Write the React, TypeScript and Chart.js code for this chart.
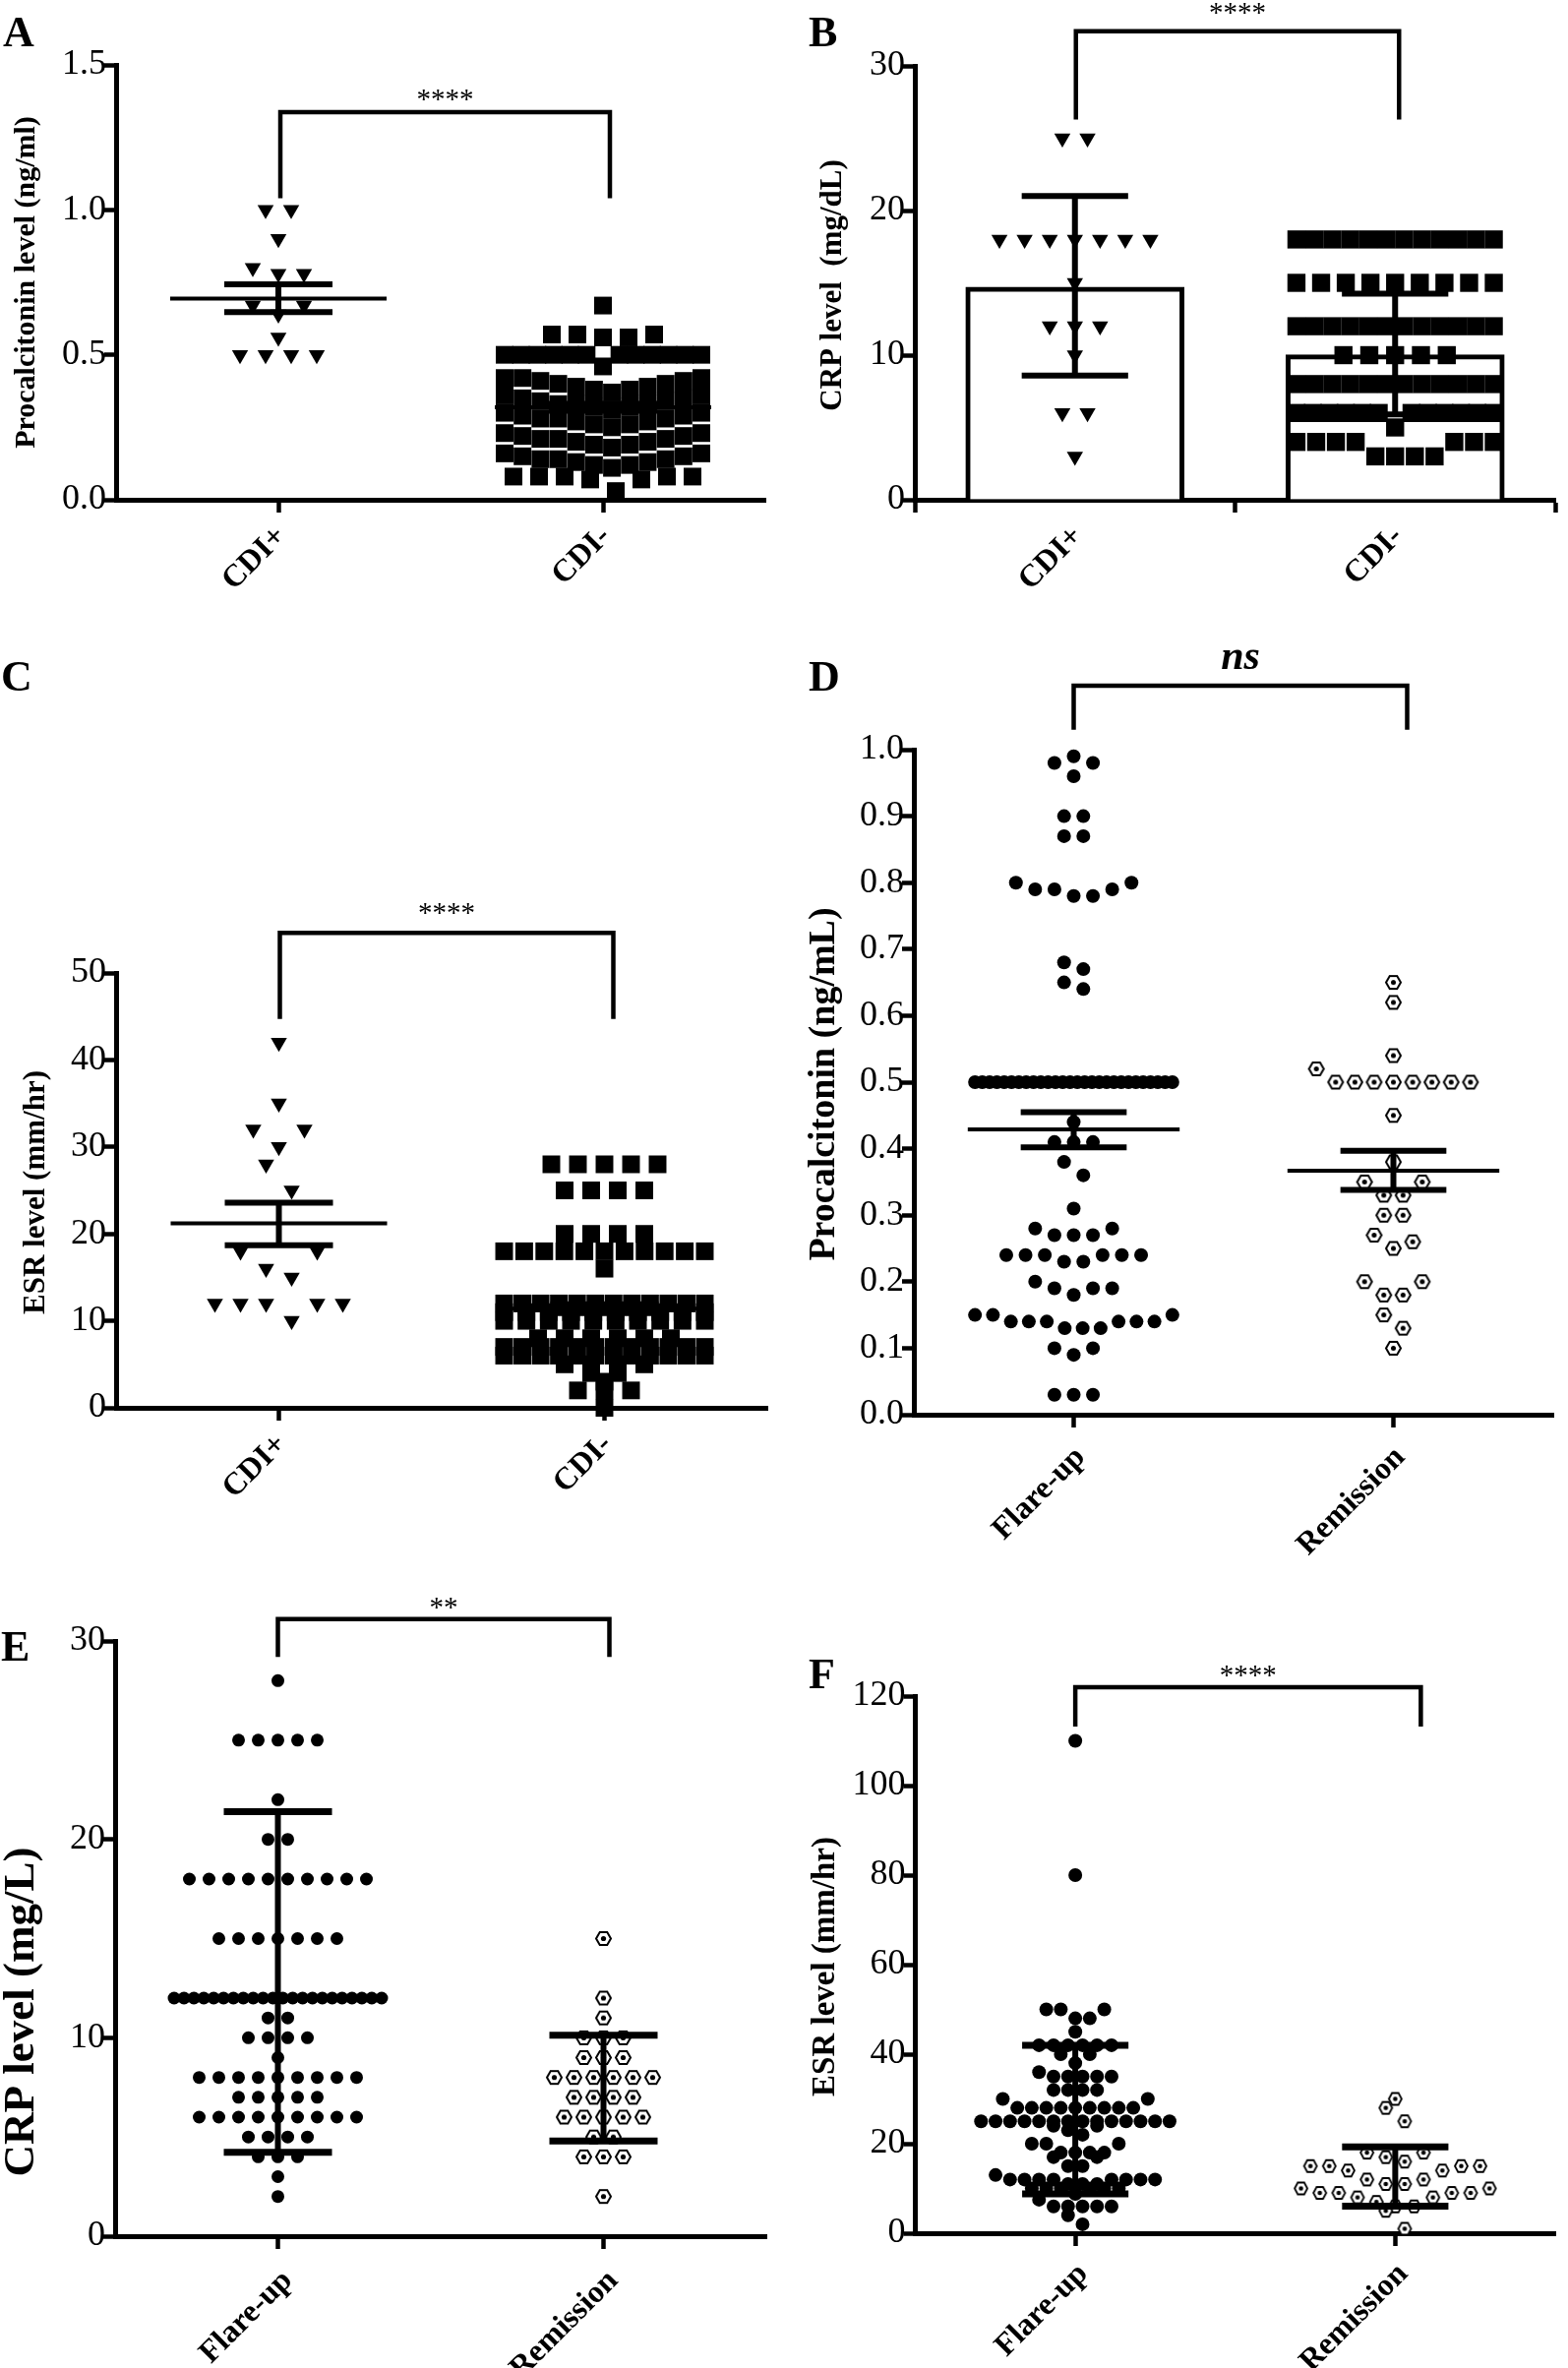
import React, { useEffect, useRef } from 'react';
import { Chart, registerables } from 'chart.js';

Chart.register(...registerables);

const FONT = '"Liberation Serif", "Times New Roman", Times, serif';

// ---------------- data ----------------
const cdiGroups = ['CDI+', 'CDI-'];
const flareGroups = ['Flare-up', 'Remission'];

// A: Procalcitonin, CDI+ vs CDI-
const pctTicksA = [0, 0.5, 1.0, 1.5];
const pctCdiPos = [1.0, 1.0, 0.9, 0.8, 0.78, 0.78, 0.67, 0.64, 0.67, 0.56, 0.5, 0.5, 0.5, 0.5];
const pctCdiNeg = [
  0.67,
  0.57, 0.57, 0.57, 0.56, 0.56,
  0.5, 0.5, 0.5, 0.5, 0.5, 0.5, 0.5, 0.5, 0.5, 0.5, 0.5, 0.5, 0.46,
  0.37, 0.38, 0.38, 0.39, 0.39, 0.4, 0.4, 0.41, 0.41, 0.42, 0.42, 0.42,
  0.31, 0.32, 0.32, 0.33, 0.33, 0.33, 0.34, 0.34, 0.35, 0.35, 0.36, 0.36,
  0.25, 0.26, 0.26, 0.27, 0.27, 0.28, 0.28, 0.28, 0.29, 0.29, 0.3, 0.3,
  0.18, 0.19, 0.19, 0.2, 0.2, 0.21, 0.21, 0.21, 0.22, 0.22, 0.23, 0.23,
  0.11, 0.12, 0.12, 0.13, 0.13, 0.14, 0.14, 0.14, 0.15, 0.15, 0.16, 0.16,
  0.03, 0.07, 0.07, 0.08, 0.08, 0.08, 0.08, 0.08,
];
const pctMeanA = [0.694, 0.319];
const pctSemLowA = [0.647, 0.307];
const pctSemHighA = [0.743, 0.331];

// B: CRP, CDI+ vs CDI- (bars = mean, error = SD)
const crpTicksB = [0, 10, 20, 30];
const crpCdiPos = [25, 25, 18, 18, 18, 18, 18, 18, 18, 15, 12, 12, 12, 10, 6, 6, 3];
const crpCdiNeg = [
  18, 18, 18, 18, 18, 18, 18, 18, 18, 18, 18, 18,
  15, 15, 15, 15, 15, 15, 15, 15, 15,
  12, 12, 12, 12, 12, 12, 12, 12, 12, 12, 12, 12,
  10, 10, 10, 10, 10,
  8, 8, 8, 8, 8, 8, 8, 8, 8, 8, 8, 8,
  6, 6, 6, 6, 6, 6, 6, 6, 6, 6, 6, 6,
  5,
  4, 4, 4, 4, 4, 4, 4,
  3, 3, 3, 3,
];
const crpBarB = [14.7, 10.03];
const crpSdLowB = [8.58, 5.9];
const crpSdHighB = [21.0, 14.25];

// C: ESR, CDI+ vs CDI-
const esrTicksC = [0, 10, 20, 30, 40, 50];
const esrCdiPos = [42, 35, 32, 32, 30, 28, 25, 18, 18, 16, 15, 12, 12, 12, 12, 12, 10];
const esrCdiNeg = [
  28, 28, 28, 28, 28,
  25, 25, 25, 25,
  20, 20, 20, 20,
  18, 18, 18, 18, 18, 18, 18, 18, 18, 18, 18,
  16,
  12, 12, 12, 12, 12, 12, 12, 12, 12, 12, 12, 12,
  11, 11, 11, 11, 11, 11, 11, 11, 11, 11,
  10, 10, 10, 10, 10, 10, 10, 10, 10, 10,
  8, 8, 8, 8, 8, 8,
  7, 7, 7, 7, 7, 7, 7, 7, 7, 7, 7, 7,
  6, 6, 6, 6, 6, 6, 6, 6, 6, 6, 6, 6,
  5, 5, 5, 5,
  4, 4,
  3,
  2, 2, 2,
  0,
];
const esrMeanC = [21.2, 11.4];
const esrSemLowC = [18.7, 10.9];
const esrSemHighC = [23.6, 11.9];

// D: Procalcitonin, Flare-up vs Remission
const pctTicksD = [0, 0.1, 0.2, 0.3, 0.4, 0.5, 0.6, 0.7, 0.8, 0.9, 1.0];
const pctFlare = [
  0.99, 0.98, 0.98, 0.96,
  0.9, 0.9, 0.87, 0.87,
  0.8, 0.79, 0.78, 0.78, 0.79, 0.79, 0.8,
  0.68, 0.67, 0.65, 0.64,
  0.5, 0.5, 0.5, 0.5, 0.5, 0.5, 0.5, 0.5, 0.5, 0.5,
  0.5, 0.5, 0.5, 0.5, 0.5, 0.5, 0.5, 0.5, 0.5, 0.5,
  0.5, 0.5, 0.5, 0.5, 0.5, 0.5, 0.5, 0.5,
  0.44, 0.41, 0.41, 0.41, 0.38, 0.36, 0.31,
  0.28, 0.28, 0.27, 0.27, 0.27,
  0.24, 0.24, 0.24, 0.24, 0.24, 0.24, 0.23, 0.23,
  0.2, 0.19, 0.19, 0.19, 0.18,
  0.15, 0.15, 0.15, 0.14, 0.14, 0.14, 0.14, 0.14, 0.14, 0.13, 0.13, 0.13,
  0.1, 0.1, 0.09,
  0.03, 0.03, 0.03,
];
const pctRemission = [
  0.65, 0.62, 0.54, 0.52,
  0.5, 0.5, 0.5, 0.5, 0.5, 0.5, 0.5, 0.5,
  0.45, 0.38, 0.35, 0.35, 0.33, 0.33, 0.3, 0.3,
  0.27, 0.26, 0.25, 0.2, 0.2, 0.18, 0.18, 0.15, 0.13, 0.1,
];
const pctMeanD = [0.429, 0.367];
const pctSemLowD = [0.402, 0.338];
const pctSemHighD = [0.455, 0.397];

// E: CRP, Flare-up vs Remission (error = SD)
const crpTicksE = [0, 10, 20, 30];
const crpFlare = [
  28,
  25, 25, 25, 25, 25,
  22,
  20, 20,
  18, 18, 18, 18, 18, 18, 18, 18, 18, 18,
  15, 15, 15, 15, 15, 15, 15,
  12, 12, 12, 12, 12, 12, 12, 12, 12, 12, 12,
  12, 12, 12, 12, 12, 12, 12, 12, 12, 12, 12,
  11, 11,
  10, 10, 10, 10,
  9,
  8, 8, 8, 8, 8, 8, 8, 8, 8,
  7, 7, 7, 7, 7,
  6, 6, 6, 6, 6, 6, 6, 6, 6,
  5, 5, 5, 5,
  4, 4, 4,
  3,
  2,
];
const crpRemission = [15, 12, 11, 10, 10, 10, 9, 9, 9, 8, 8, 8, 8, 8, 8, 7, 7, 7, 7, 6, 6, 6, 6, 6, 5, 5, 4, 4, 4, 2];
const crpSdLowE = [4.23, 4.8];
const crpSdHighE = [21.4, 10.13];

// F: ESR, Flare-up vs Remission (error = SD)
const esrTicksF = [0, 20, 40, 60, 80, 100, 120];
const esrFlare = [
  110, 80,
  50, 50, 50, 48, 48, 45,
  42, 42, 42, 42, 42, 42, 40, 40, 38, 36, 35, 35, 35, 35, 35,
  32, 32, 32, 32, 30, 30,
  28, 28, 28, 28, 28, 28, 28, 28, 28,
  25, 25, 25, 25, 25, 25, 25, 25, 25, 25, 25, 25, 25, 25,
  24, 24, 23, 22,
  20, 20, 20, 18, 18, 18, 18, 17, 17, 15, 15, 13,
  12, 12, 12, 12, 12, 12, 12, 12,
  11, 11, 11,
  10, 10, 10, 10, 10, 10,
  8.8, 7.5,
  6, 6, 6, 6, 6,
  4, 2,
];
const esrRemission = [30, 28, 25, 18, 18, 17, 16, 15, 15, 15, 15, 14, 14, 12, 12, 11, 11, 10, 10, 9, 9, 9, 9, 8, 8, 7, 6, 6, 5, 1];
const esrSdLowF = [8.8, 6.05];
const esrSdHighF = [42.0, 19.3];

// ---------------- layout / style ----------------
type Sym = 'tri' | 'sq' | 'dot' | 'hex';
type GroupSpec = { values: number[]; symbol: Sym; size: number; step: number; span: number; bin: number };
type PanelSpec = {
  letter: string;
  letterPos: [number, number];
  box: [number, number, number, number];
  axisX: number;
  top: number;
  bottom: number;
  right: number;
  yTicks: number[];
  decimals: number;
  cats: string[];
  yTitle: string;
  titleSize: number;
  titlePos: [number, number];
  sig: string;
  sigFont: string;
  sigGap: number;
  bracket: [number, number];
  bracketDx: [number, number];
  groups: GroupSpec[];
  bars?: number[];
  mean?: number[];
  low: number[];
  high: number[];
  capWidth: number;
  meanWidth: number;
  hex?: [number, number, number, number];
  labelPad: number;
  labelShift: number;
};

const panels: PanelSpec[] = [
  {
    letter: 'A', letterPos: [3, 47], box: [0, 0, 800, 640],
    axisX: 118, top: 66, bottom: 508, right: 778,
    yTicks: pctTicksA, decimals: 1, cats: cdiGroups,
    yTitle: 'Procalcitonin level (ng/ml)', titleSize: 30, titlePos: [27, 287],
    sig: '****', sigFont: `29px ${FONT}`, sigGap: 4,
    bracket: [1.337, 1.04], bracketDx: [2, 7],
    groups: [
      { values: pctCdiPos, symbol: 'tri', size: 9.5, step: 26, span: 200, bin: 16 },
      { values: pctCdiNeg, symbol: 'sq', size: 12.7, step: 26, span: 200, bin: 16 },
    ],
    mean: pctMeanA, low: pctSemLowA, high: pctSemHighA, capWidth: 6, meanWidth: 4, labelPad: 6, labelShift: 3,
  },
  {
    letter: 'B', letterPos: [822, 47], box: [800, 0, 794, 640],
    axisX: 930, top: 67, bottom: 508, right: 1592,
    yTicks: crpTicksB, decimals: 0, cats: cdiGroups,
    yTitle: 'CRP level  (mg/dL)', titleSize: 31, titlePos: [847, 290],
    sig: '****', sigFont: `29px ${FONT}`, sigGap: 10,
    bracket: [32.4, 26.3], bracketDx: [1, 4],
    groups: [
      { values: crpCdiPos, symbol: 'tri', size: 9.5, step: 26, span: 200, bin: 16 },
      { values: crpCdiNeg, symbol: 'sq', size: 13, step: 26.7, span: 204, bin: 16 },
    ],
    bars: crpBarB, low: crpSdLowB, high: crpSdHighB, capWidth: 6, meanWidth: 4, labelPad: 6, labelShift: 3,
  },
  {
    letter: 'C', letterPos: [1, 702], box: [0, 640, 800, 980],
    axisX: 118, top: 989, bottom: 1431, right: 780,
    yTicks: esrTicksC, decimals: 0, cats: cdiGroups,
    yTitle: 'ESR level (mm/hr)', titleSize: 31, titlePos: [37, 1212],
    sig: '****', sigFont: `29px ${FONT}`, sigGap: 11,
    bracket: [54.6, 44.7], bracketDx: [1, 9],
    groups: [
      { values: esrCdiPos, symbol: 'tri', size: 9.5, step: 26, span: 200, bin: 28 },
      { values: esrCdiNeg, symbol: 'sq', size: 12.7, step: 27, span: 204, bin: 8 },
    ],
    mean: esrMeanC, low: esrSemLowC, high: esrSemHighC, capWidth: 6, meanWidth: 4, labelPad: 6, labelShift: 3,
  },
  {
    letter: 'D', letterPos: [822, 702], box: [800, 640, 794, 980],
    axisX: 929, top: 762, bottom: 1438, right: 1593,
    yTicks: pctTicksD, decimals: 1, cats: flareGroups,
    yTitle: 'Procalcitonin (ng/mL)', titleSize: 38, titlePos: [838, 1102],
    sig: 'ns', sigFont: `italic bold 42px ${FONT}`, sigGap: 17,
    bracket: [1.096, 1.03], bracketDx: [0, 14],
    groups: [
      { values: pctFlare, symbol: 'dot', size: 7, step: 20, span: 205, bin: 14 },
      { values: pctRemission, symbol: 'hex', size: 15, step: 20, span: 205, bin: 14 },
    ],
    mean: pctMeanD, low: pctSemLowD, high: pctSemHighD, capWidth: 6, meanWidth: 4,
    hex: [15, 13, 2, 2.5], labelPad: 12, labelShift: 7,
  },
  {
    letter: 'E', letterPos: [1, 1688], box: [0, 1620, 800, 787],
    axisX: 117, top: 1668, bottom: 2273, right: 779,
    yTicks: crpTicksE, decimals: 0, cats: flareGroups,
    yTitle: 'CRP level (mg/L)', titleSize: 45, titlePos: [22, 2045],
    sig: '**', sigFont: `29px ${FONT}`, sigGap: 3,
    bracket: [31.1, 29.2], bracketDx: [0, 6],
    groups: [
      { values: crpFlare, symbol: 'dot', size: 6.5, step: 20, span: 211, bin: 14 },
      { values: crpRemission, symbol: 'hex', size: 15, step: 20, span: 211, bin: 14 },
    ],
    low: crpSdLowE, high: crpSdHighE, capWidth: 7, meanWidth: 4,
    hex: [15, 13, 2, 2.6], labelPad: 14, labelShift: 10,
  },
  {
    letter: 'F', letterPos: [822, 1716], box: [800, 1620, 794, 787],
    axisX: 930.5, top: 1724, bottom: 2270, right: 1592.5,
    yTicks: esrTicksF, decimals: 0, cats: flareGroups,
    yTitle: 'ESR level (mm/hr)', titleSize: 33, titlePos: [839, 1999],
    sig: '****', sigFont: `29px ${FONT}`, sigGap: 3,
    bracket: [122, 113.2], bracketDx: [0, 26],
    groups: [
      { values: esrFlare, symbol: 'dot', size: 7, step: 15, span: 208, bin: 10 },
      { values: esrRemission, symbol: 'hex', size: 13, step: 19.5, span: 208, bin: 20 },
    ],
    low: esrSdLowF, high: esrSdHighF, capWidth: 7, meanWidth: 4,
    hex: [13, 12, 1.8, 2.3], labelPad: 10, labelShift: 8,
  },
];

// ---------------- helpers ----------------
function swarm(values: number[], cx: number, ppuX: number, ppuY: number, binPx: number, stepPx: number, spanPx: number) {
  const order = values.map((_, i) => i).sort((a, b) => values[a] - values[b]);
  const bins: number[][] = [];
  let start = 0;
  for (const i of order) {
    const last = bins[bins.length - 1];
    if (last && (values[i] - start) * ppuY < binPx) last.push(i);
    else {
      bins.push([i]);
      start = values[i];
    }
  }
  const pts = values.map((v) => ({ x: cx, y: v }));
  for (const bin of bins) {
    const n = bin.length;
    const step = n > 1 ? Math.min(stepPx, spanPx / (n - 1)) : 0;
    const slots = Array.from({ length: n }, (_, k) => k - (n - 1) / 2).sort(
      (a, b) => Math.abs(a) - Math.abs(b) || b - a
    );
    bin.forEach((i, k) => {
      pts[i].x = cx + (slots[k] * step) / ppuX;
    });
  }
  return pts;
}

function hexSymbol(w: number, h: number, lw: number, dotR: number) {
  const c = document.createElement('canvas');
  c.width = Math.ceil(w + lw + 2);
  c.height = Math.ceil(h + lw + 2);
  const g = c.getContext('2d')!;
  const cx = c.width / 2;
  const cy = c.height / 2;
  g.beginPath();
  g.moveTo(cx - w / 2, cy);
  g.lineTo(cx - w / 4, cy - h / 2);
  g.lineTo(cx + w / 4, cy - h / 2);
  g.lineTo(cx + w / 2, cy);
  g.lineTo(cx + w / 4, cy + h / 2);
  g.lineTo(cx - w / 4, cy + h / 2);
  g.closePath();
  g.fillStyle = '#fff';
  g.fill();
  g.lineWidth = lw;
  g.strokeStyle = '#000';
  g.stroke();
  g.beginPath();
  g.arc(cx, cy, dotR, 0, Math.PI * 2);
  g.fillStyle = '#000';
  g.fill();
  return c;
}

function lineSet(data: any[], width: number) {
  return {
    type: 'line',
    data,
    order: 1,
    borderColor: '#000',
    borderWidth: width,
    pointRadius: 0,
    pointHoverRadius: 0,
    fill: false,
    spanGaps: false,
    tension: 0,
    borderCapStyle: 'butt',
    clip: false,
  };
}

function buildDatasets(p: PanelSpec, ppuX: number, ppuY: number) {
  const ds: any[] = [];
  p.groups.forEach((g, gi) => {
    const cx = gi + 1;
    const data = swarm(g.values, cx, ppuX, ppuY, g.bin, g.step, g.span);
    let style: any = 'circle';
    let rot = 0;
    if (g.symbol === 'tri') {
      style = 'triangle';
      rot = 180;
    } else if (g.symbol === 'sq') style = 'rect';
    else if (g.symbol === 'hex' && p.hex) style = hexSymbol(p.hex[0], p.hex[1], p.hex[2], p.hex[3]);
    ds.push({
      type: 'scatter',
      data,
      order: 2,
      pointStyle: style,
      pointRotation: rot,
      pointRadius: g.size,
      pointHoverRadius: g.size,
      pointBackgroundColor: '#000',
      pointBorderColor: '#000',
      pointBorderWidth: 0,
      backgroundColor: '#000',
      borderColor: '#000',
      clip: false,
    });
  });
  if (p.bars) {
    ds.push({
      type: 'bar',
      data: p.bars.map((v, i) => ({ x: i + 1, y: v })),
      order: 3,
      backgroundColor: '#fff',
      borderColor: '#000',
      borderWidth: 5,
      barThickness: 222,
    });
  }
  const capHalf = 55 / ppuX;
  const meanHalf = 110 / ppuX;
  p.low.forEach((lo, i) => {
    const cx = i + 1;
    const hi = p.high[i];
    ds.push(
      lineSet(
        [
          { x: cx - capHalf, y: hi },
          { x: cx + capHalf, y: hi },
          { x: cx, y: null },
          { x: cx - capHalf, y: lo },
          { x: cx + capHalf, y: lo },
        ],
        p.capWidth
      )
    );
    ds.push(lineSet([{ x: cx, y: hi }, { x: cx, y: lo }], 6));
    if (p.mean) {
      const m = p.mean[i];
      ds.push(lineSet([{ x: cx - meanHalf, y: m }, { x: cx + meanHalf, y: m }], p.meanWidth));
    }
  });
  return ds;
}

function decorPlugin(p: PanelSpec) {
  return {
    id: 'decor' + p.letter,
    afterDraw(chart: any) {
      const ctx = chart.ctx as CanvasRenderingContext2D;
      const xs = chart.scales.x;
      const ys = chart.scales.y;
      const [bl, bt] = p.box;
      ctx.save();
      ctx.fillStyle = '#000';
      ctx.strokeStyle = '#000';
      ctx.font = `bold 44px ${FONT}`;
      ctx.textAlign = 'left';
      ctx.textBaseline = 'alphabetic';
      ctx.fillText(p.letter, p.letterPos[0] - bl, p.letterPos[1] - bt);

      ctx.save();
      ctx.translate(p.titlePos[0] - bl, p.titlePos[1] - bt);
      ctx.rotate(-Math.PI / 2);
      ctx.font = `bold ${p.titleSize}px ${FONT}`;
      ctx.textAlign = 'center';
      ctx.textBaseline = 'middle';
      ctx.fillText(p.yTitle, 0, 0);
      ctx.restore();

      const x1 = xs.getPixelForValue(1) + p.bracketDx[0];
      const x2 = xs.getPixelForValue(2) + p.bracketDx[1];
      const yT = ys.getPixelForValue(p.bracket[0]);
      const yB = ys.getPixelForValue(p.bracket[1]);
      ctx.lineWidth = 4.5;
      ctx.lineJoin = 'miter';
      ctx.lineCap = 'butt';
      ctx.beginPath();
      ctx.moveTo(x1, yB);
      ctx.lineTo(x1, yT);
      ctx.lineTo(x2, yT);
      ctx.lineTo(x2, yB);
      ctx.stroke();
      ctx.font = p.sigFont;
      ctx.textAlign = 'center';
      ctx.textBaseline = 'alphabetic';
      ctx.fillText(p.sig, (x1 + x2) / 2, yT - p.sigGap);
      ctx.restore();
    },
  };
}

function buildConfig(p: PanelSpec): any {
  const [bl, bt, bw, bh] = p.box;
  const xAxisH = bt + bh - p.bottom;
  const yAxisW = p.axisX - bl;
  const padTop = p.top - bt;
  const padRight = bl + bw - p.right;
  const yMin = p.yTicks[0];
  const yMax = p.yTicks[p.yTicks.length - 1];
  const ppuX = (p.right - p.axisX) / 2;
  const ppuY = (p.bottom - p.top) / (yMax - yMin);
  return {
    type: 'scatter',
    data: { datasets: buildDatasets(p, ppuX, ppuY) },
    plugins: [decorPlugin(p)],
    options: {
      responsive: false,
      animation: false,
      events: [],
      layout: { padding: { left: 0, top: padTop, right: padRight, bottom: 0 } },
      plugins: { legend: { display: false }, tooltip: { enabled: false }, title: { display: false } },
      scales: {
        x: {
          type: 'linear',
          min: 0.5,
          max: 2.5,
          offset: false,
          afterBuildTicks: (s: any) => {
            s.ticks = [{ value: 1 }, { value: 2 }];
          },
          afterFit: (s: any) => {
            s.height = xAxisH;
          },
          ticks: {
            autoSkip: false,
            minRotation: 45,
            maxRotation: 45,
            padding: p.labelPad,
            labelOffset: p.labelShift,
            color: '#000',
            font: { family: FONT, size: 32, weight: 'bold' },
            callback: (v: any) => p.cats[Math.round(Number(v)) - 1] ?? '',
          },
          grid: { display: true, drawOnChartArea: false, drawTicks: true, tickLength: 13, tickWidth: 4.5, tickColor: '#000' },
          border: { display: true, width: 5, color: '#000' },
        },
        y: {
          type: 'linear',
          min: yMin,
          max: yMax,
          afterBuildTicks: (s: any) => {
            s.ticks = p.yTicks.map((v) => ({ value: v }));
          },
          afterFit: (s: any) => {
            s.width = yAxisW;
          },
          ticks: {
            padding: -2,
            color: '#000',
            font: { family: FONT, size: 36 },
            callback: (v: any) => Number(v).toFixed(p.decimals),
          },
          grid: { display: true, drawOnChartArea: false, drawTicks: true, tickLength: 12, tickWidth: 4.5, tickColor: '#000' },
          border: { display: true, width: 5, color: '#000' },
        },
      },
    },
  };
}

function PanelChart({ p }: { p: PanelSpec }) {
  const ref = useRef<HTMLCanvasElement>(null);
  useEffect(() => {
    if (!ref.current) return;
    const chart = new Chart(ref.current, buildConfig(p));
    return () => chart.destroy();
  }, [p]);
  const [l, t, w, h] = p.box;
  return (
    <div style={{ position: 'absolute', left: l, top: t, width: w, height: h }}>
      <canvas ref={ref} width={w} height={h} style={{ width: w, height: h, display: 'block' }} />
    </div>
  );
}

export default function App() {
  useEffect(() => {
    document.body.style.margin = '0';
    document.body.style.background = '#fff';
  }, []);
  return (
    <div style={{ position: 'absolute', left: 0, top: 0, width: 1594, height: 2407, background: '#fff', overflow: 'hidden' }}>
      {panels.map((p) => (
        <PanelChart key={p.letter} p={p} />
      ))}
    </div>
  );
}
